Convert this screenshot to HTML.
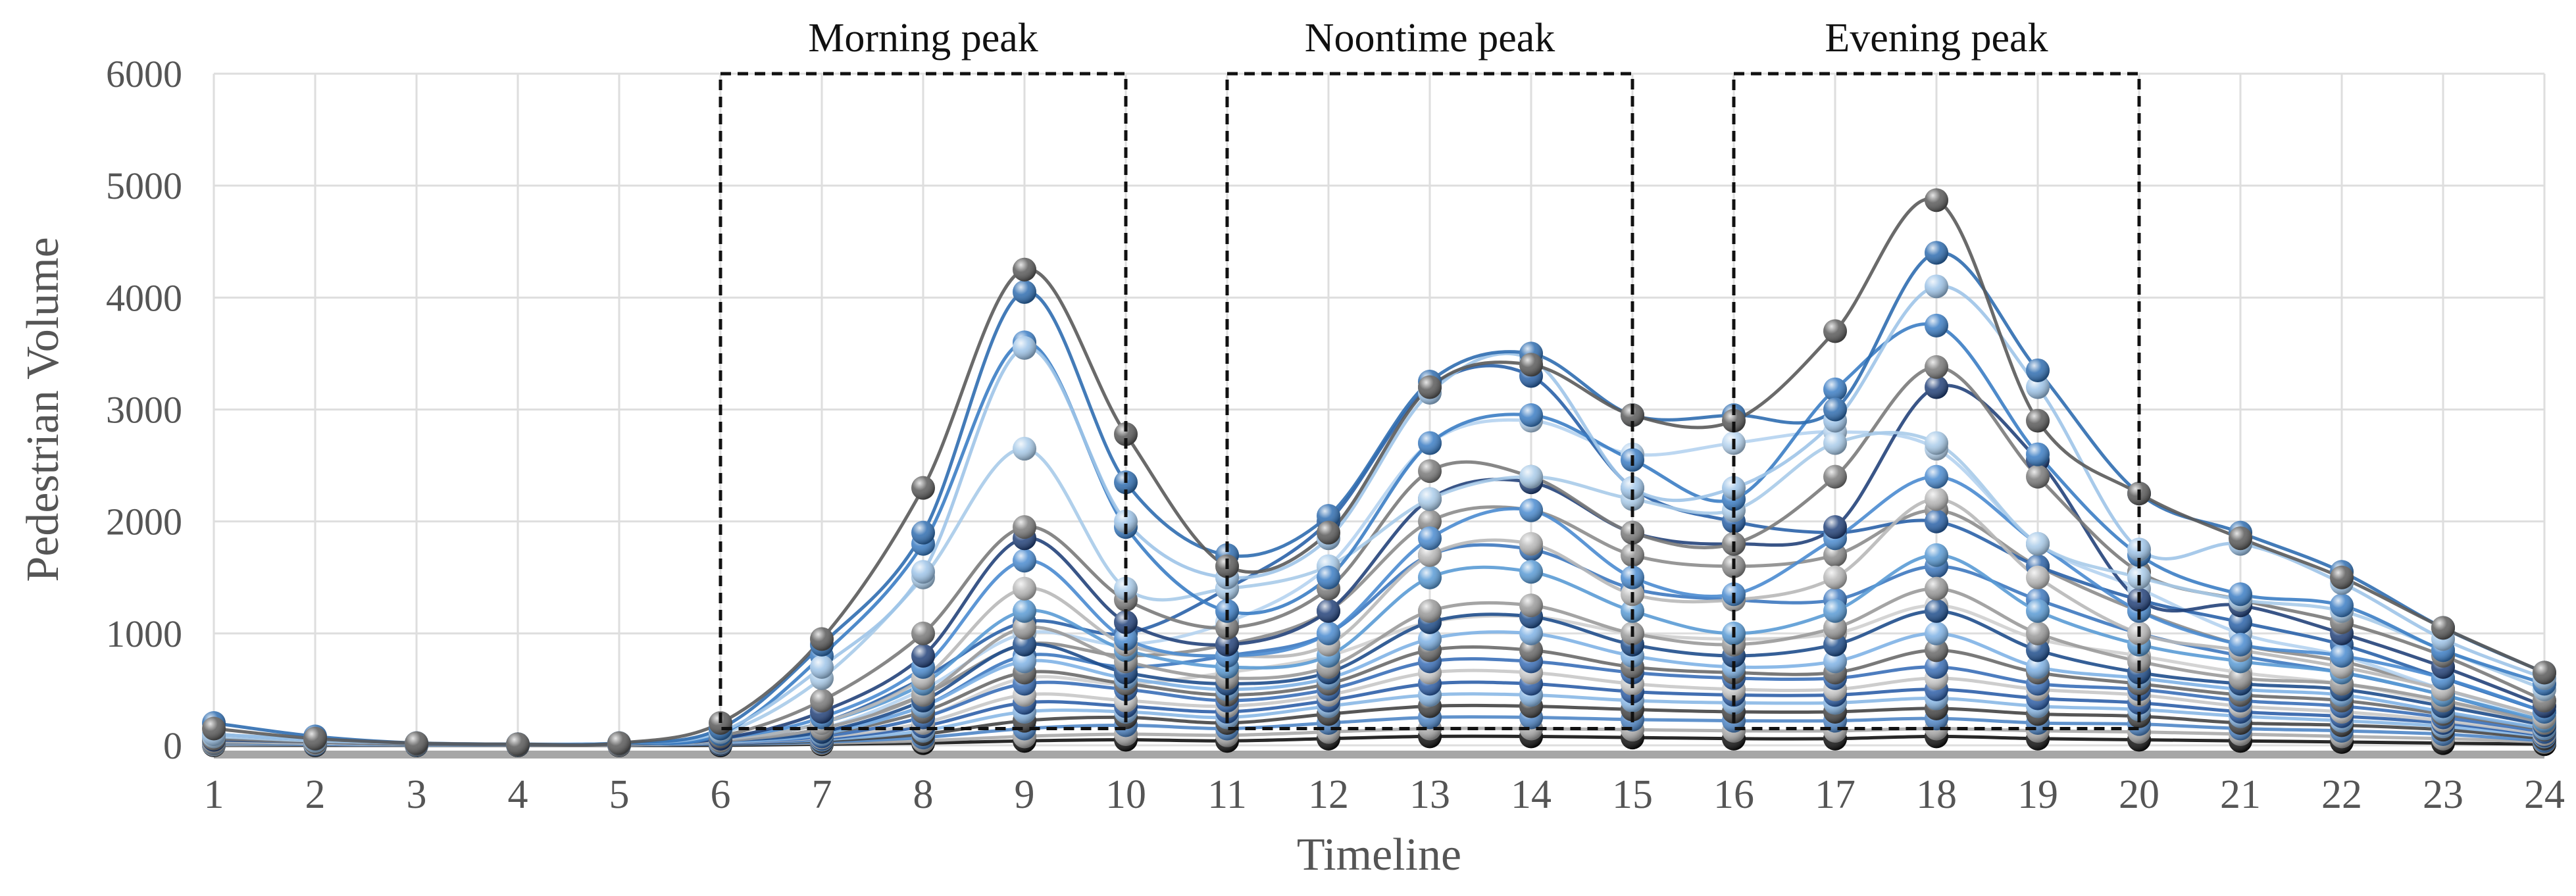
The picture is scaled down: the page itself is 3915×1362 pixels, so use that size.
<!DOCTYPE html>
<html><head><meta charset="utf-8"><style>
html,body{margin:0;padding:0;background:#fff;width:3915px;height:1362px;overflow:hidden}
svg text{font-family:"Liberation Serif",serif}
</style></head><body>
<svg id="chart" width="3915" height="1362" viewBox="0 0 3915 1362" xmlns="http://www.w3.org/2000/svg">
<defs>
<radialGradient id="hl" cx="0.35" cy="0.3" r="0.7">
<stop offset="0" stop-color="#fff" stop-opacity="0.85"/>
<stop offset="0.45" stop-color="#fff" stop-opacity="0.15"/>
<stop offset="1" stop-color="#000" stop-opacity="0.35"/>
</radialGradient>
</defs>
<g id="grid"></g>
<g id="series"></g>
<g id="boxes"></g>
<g id="axes"></g>
</svg>
<script>
const hours=[1,2,3,4,5,6,7,8,9,10,11,12,13,14,15,16,17,18,19,20,21,22,23,24];
const yTicks=[0,1000,2000,3000,4000,5000,6000];
const peakLabels=["Morning peak","Noontime peak","Evening peak"];
const peakStart=[6,11,16];
const peakEnd=[10,15,20];
const peakBottom=150;
const s1=[150,60,20,10,20,200,950,2300,4250,2780,1600,1900,3200,3400,2950,2900,3700,4870,2900,2250,1850,1500,1050,650];
const s2=[200,80,20,10,20,150,900,1900,4050,2350,1700,2050,3250,3500,2950,2950,3000,4400,3350,2250,1900,1550,1050,650];
const s3=[100,50,20,10,20,120,700,1550,3550,2000,1500,1850,3150,3450,2300,2300,2900,4100,3200,1750,1800,1450,950,600];
const s4=[100,50,20,10,20,100,800,1800,3600,1950,1200,1500,2700,2950,2550,2200,3180,3750,2600,1700,1350,1250,850,550];
const s5=[80,40,20,10,20,100,600,1500,2650,1400,1400,1600,2200,2400,2200,2100,2700,2700,1800,1500,1300,1200,850,500];
const s6=[60,30,10,5,10,80,400,1000,1950,1300,1050,1400,2450,2400,1900,1800,2400,3380,2400,1550,1300,1100,800,400];
const s7=[50,30,10,5,10,60,300,800,1850,1100,900,1200,2200,2350,1900,1800,1950,3200,2550,1300,1250,1000,700,350];
const s8=[50,30,10,5,10,60,250,700,1650,950,800,1000,1850,2100,1500,1350,1850,2400,1800,1200,900,800,600,300];
const s9=[40,20,10,5,10,50,200,600,1400,900,800,900,1700,1800,1350,1300,1500,2200,1500,1000,850,700,500,250];
const s10=[40,20,10,5,10,50,200,550,1200,850,700,800,1500,1550,1200,1000,1200,1700,1200,900,750,650,450,220];
const s11=[30,20,10,5,10,40,150,450,1050,750,600,700,1200,1250,1000,900,1050,1400,1000,750,600,550,400,200];
const s12=[30,20,10,5,10,40,120,400,900,650,550,650,1100,1150,900,800,900,1200,850,650,550,500,350,180];
const s13=[25,15,5,5,10,30,100,350,750,600,500,600,950,1000,800,700,750,1000,700,600,500,450,300,150];
const s14=[20,15,5,5,10,30,100,300,650,550,450,550,850,850,700,650,650,850,650,550,450,400,280,140];
const s15=[20,10,5,5,10,30,80,250,550,500,400,500,750,750,650,600,600,700,550,500,400,350,250,120];
const s16=[15,10,5,5,5,25,70,200,450,400,350,450,650,650,550,500,500,600,500,450,350,300,220,100];
const s17=[15,10,5,5,5,20,60,170,380,350,300,400,550,550,480,450,450,500,420,380,300,260,200,90];
const s18=[10,10,5,5,5,20,50,130,300,300,250,350,450,450,400,380,380,420,350,320,260,220,170,80];
const s19=[10,5,5,5,5,15,40,100,220,250,200,280,350,350,320,300,300,330,280,260,200,180,140,60];
const s20=[10,5,5,5,5,10,30,70,150,180,150,200,250,250,230,220,220,240,200,190,150,130,100,40];
const s21=[5,5,5,5,5,10,20,40,80,100,90,120,150,150,140,130,130,150,130,120,100,80,60,30];
const s22=[50,20,10,5,10,50,200,600,1100,1000,1400,2000,3200,3300,2300,2000,1900,2000,1600,1300,1100,900,600,300];
const s23=[40,20,10,5,10,50,150,500,1000,900,1100,1600,2700,2900,2600,2700,2800,2650,1800,1400,1000,800,500,250];
const s24=[40,20,10,5,10,40,150,450,900,800,900,1200,2000,2100,1700,1600,1700,2100,1600,1200,900,750,500,250];
const s25=[30,15,5,5,10,40,120,350,800,700,800,1000,1700,1750,1400,1300,1300,1600,1300,1000,800,650,450,200];
const s26=[20,10,5,5,5,30,90,250,600,550,650,800,1100,1150,1000,950,1000,1250,950,800,650,550,380,180];
const s27=[0,0,0,0,0,0,10,20,40,50,40,60,80,80,70,60,60,80,60,50,40,30,20,10];
const allSeries=[s1,s2,s3,s4,s5,s6,s7,s8,s9,s10,s11,s12,s13,s14,s15,s16,s17,s18,s19,s20,s21,s22,s23,s24,s25,s26,s27];
const colors=['#5a5a5a','#2f6db0','#9ec4e8','#3b7dc4','#a9cbe9','#7a7a7a','#23427a','#4a8bd0','#b8b8b8','#5a9bd5','#9a9a9a','#1f4e8c','#7fb2e5','#6a6a6a','#3a6fb8','#c8c8c8','#2e5fa8','#8ab8e6','#444','#4f86c6','#aaa','#2a62a8','#b5d3ef','#8c8c8c','#3d78bf','#cfcfcf','#111'];

const NS="http://www.w3.org/2000/svg";
const X0=325, DX=154, Y0=1133, YTOP=112;
function xs(h){return X0+(h-1)*DX;}
function ys(v){return Y0-(v/6000)*(Y0-YTOP);}
function mk(tag,attrs,parent){const e=document.createElementNS(NS,tag);for(const k in attrs)e.setAttribute(k,attrs[k]);parent.appendChild(e);return e;}
const grid=document.getElementById('grid'),ser=document.getElementById('series'),boxes=document.getElementById('boxes'),axes=document.getElementById('axes');

yTicks.forEach(t=>{
  const l=mk('line',{x1:xs(1),x2:xs(24),y1:ys(t),y2:ys(t),stroke:'#dedede','stroke-width':3},grid);
  
  
  const tx=mk('text',{x:xs(1)-48,y:ys(t)+20,'text-anchor':'end','font-size':58,fill:'#555'},axes);
  tx.textContent=t;
  
  
});
hours.forEach(h=>{
  const l=mk('line',{x1:xs(h),x2:xs(h),y1:ys(6000),y2:ys(0),stroke:'#dedede','stroke-width':3},grid);
  
  
  const tx=mk('text',{x:xs(h),y:1228,'text-anchor':'middle','font-size':62,fill:'#555'},axes);
  tx.textContent=h;
  
  
});
function smooth(pts){
  let d='M'+pts[0][0]+','+pts[0][1];
  for(let i=0;i<pts.length-1;i++){
    const p0=pts[i-1]||pts[i],p1=pts[i],p2=pts[i+1],p3=pts[i+2]||p2;
    const c1x=p1[0]+(p2[0]-p0[0])/6,c1y=p1[1]+(p2[1]-p0[1])/6;
    const c2x=p2[0]-(p3[0]-p1[0])/6,c2y=p2[1]-(p3[1]-p1[1])/6;
    d+=' C'+c1x+','+c1y+' '+c2x+','+c2y+' '+p2[0]+','+p2[1];
  }
  return d;
}
const sh=mk('line',{x1:xs(1),x2:xs(24),y1:ys(0)+14,y2:ys(0)+14,stroke:'#222','stroke-width':12,opacity:0.4},ser);


const order=allSeries.map((s,i)=>i).reverse();
order.forEach(i=>{
  const s=allSeries[i];
  const pts=s.map((v,j)=>[xs(hours[j]),ys(v)]);
  const p=mk('path',{d:smooth(pts),fill:'none',stroke:colors[i%colors.length],'stroke-width':5,opacity:0.9},ser);
  
  
});
order.forEach(i=>{
  const s=allSeries[i];
  s.forEach((v,j)=>{
    const g=mk('g',{},ser);
    
    
    mk('circle',{cx:xs(hours[j]),cy:ys(v),r:18,fill:colors[i%colors.length]},g);
    mk('circle',{cx:xs(hours[j]),cy:ys(v),r:18,fill:'url(#hl)'},g);
  });
});
peakLabels.forEach((lab,i)=>{
  const x1=xs(peakStart[i]),x2=xs(peakEnd[i]);
  const r=mk('rect',{x:x1,y:ys(6000),width:x2-x1,height:ys(peakBottom)-ys(6000),fill:'none',stroke:'#111','stroke-width':5,'stroke-dasharray':'16 10'},boxes);
  
  
  const t=mk('text',{x:(x1+x2)/2,y:78,'text-anchor':'middle','font-size':62,fill:'#111'},boxes);
  t.textContent=lab;
  
  
});
const yt=mk('text',{x:0,y:0,'text-anchor':'middle','font-size':70,fill:'#555',transform:'translate(88,'+((ys(0)+ys(6000))/2)+') rotate(-90)'},axes);
yt.textContent='Pedestrian Volume';


const xt=mk('text',{x:(xs(1)+xs(24))/2,y:1322,'text-anchor':'middle','font-size':70,fill:'#555'},axes);
xt.textContent='Timeline';


</script>
</body></html>
